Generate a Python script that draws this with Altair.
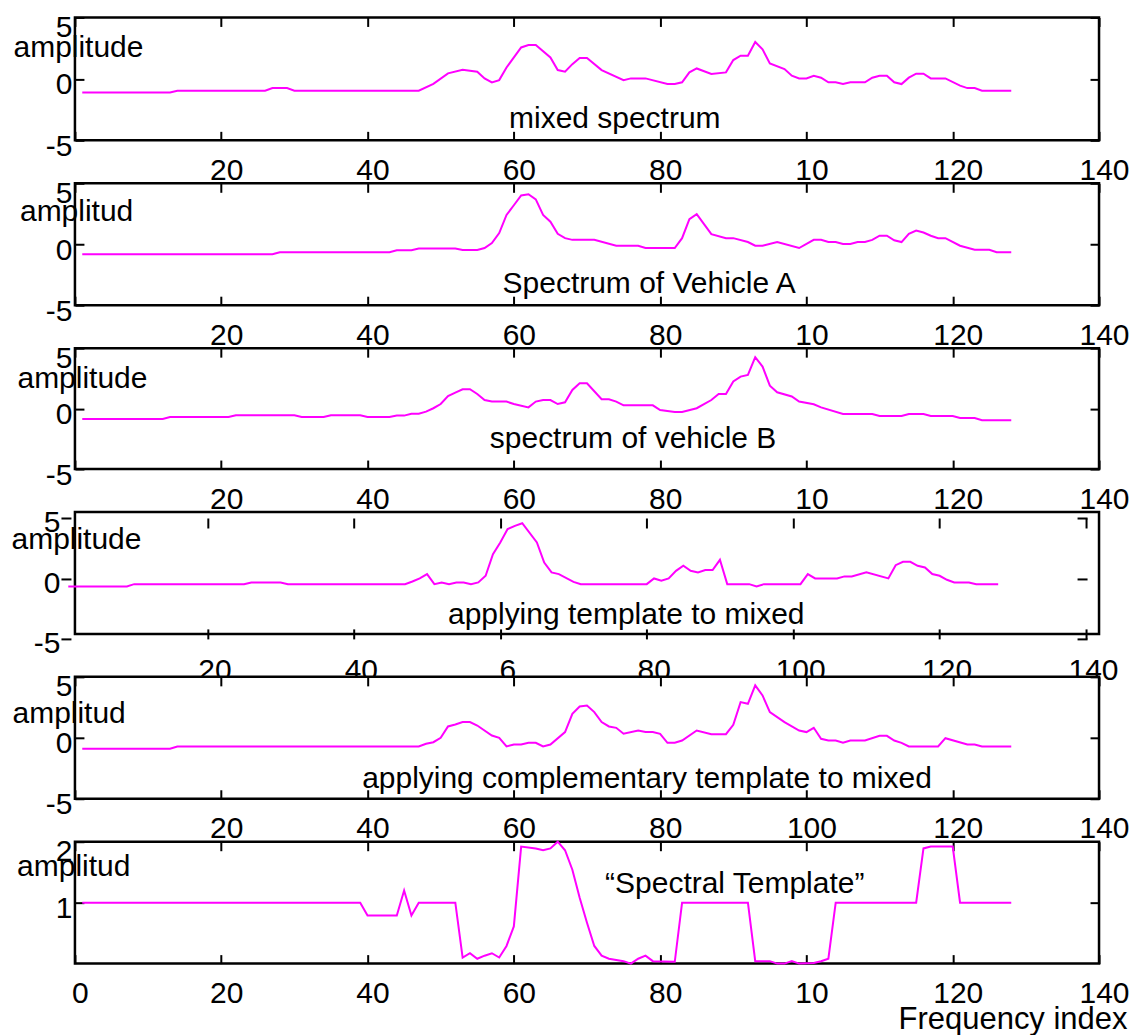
import altair as alt
import pandas as pd

FONT = "Liberation Sans"
MAGENTA = "#ff00ff"
TICK_FS = 30
TEXT_FS = 30

# ---------------- values ----------------
mixed_idx = [1, 13, 14, 26, 27, 29, 30, 47, 49, 51, 53, 55, 56, 57, 58, 59, 61, 62, 63, 65,
             66, 67, 68, 69, 70, 72, 75, 76, 78, 81, 82, 83, 84, 85, 87, 89, 90, 91, 92, 93,
             94, 95, 97, 98, 99, 100, 101, 102, 103, 104, 105, 106, 108, 109, 110, 111, 112, 113, 114, 115,
             116, 117, 119, 121, 122, 123, 124, 128]
mixed_amp = [-1.1, -1.1, -0.96, -0.96, -0.75, -0.75, -0.96, -0.96, -0.4, 0.45,
             0.75, 0.58, 0.04, -0.28, -0.1, 0.93, 2.56, 2.75, 2.75, 1.75,
             0.72, 0.58, 1.2, 1.7, 1.7, 0.72, -0.1, 0.04, 0.04, -0.42,
             -0.42, -0.28, 0.53, 0.85, 0.4, 0.53, 1.53, 1.89, 1.89, 3.0,
             2.4, 1.26, 0.8, 0.26, 0.04, 0.04, 0.26, 0.1, -0.28, -0.28,
             -0.42, -0.28, -0.28, 0.1, 0.26, 0.26, -0.28, -0.42, 0.1, 0.42,
             0.42, 0.04, 0.04, -0.55, -0.75, -0.75, -0.96, -0.96]

vehA_idx = [1, 27, 28, 43, 44, 46, 47, 52, 53, 55, 56, 57, 58, 59, 60, 61, 62, 63, 64, 65,
            66, 67, 68, 71, 74, 77, 78, 82, 83, 84, 85, 86, 87, 89, 90, 92, 93, 94, 96, 99,
            101, 102, 103, 104, 105, 106, 107, 108, 109, 110, 111, 112, 113, 114, 115, 116, 117, 118, 119, 121,
            123, 125, 126, 128]
vehA_amp = [-0.82, -0.82, -0.65, -0.65, -0.5, -0.5, -0.35, -0.35, -0.47, -0.47,
            -0.31, 0.1, 0.92, 2.4, 3.2, 4.0, 4.1, 3.68, 2.4, 1.85,
            0.85, 0.5, 0.36, 0.36, -0.12, -0.12, -0.31, -0.31, 0.5, 2.06,
            2.47, 1.65, 0.83, 0.5, 0.5, 0.18, -0.12, -0.12, 0.18, -0.31,
            0.36, 0.36, 0.18, 0.18, 0.02, 0.02, 0.18, 0.18, 0.36, 0.7,
            0.7, 0.32, 0.18, 0.85, 1.13, 0.96, 0.7, 0.5, 0.5, -0.12,
            -0.45, -0.45, -0.65, -0.65]

vehB_idx = [1, 12, 13, 21, 22, 30, 31, 34, 35, 39, 40, 43, 44, 45, 46, 47, 48, 49, 50, 51,
            52, 53, 54, 55, 56, 57, 59, 60, 62, 63, 64, 65, 66, 67, 68, 69, 70, 72, 73, 74,
            75, 79, 80, 82, 83, 85, 87, 88, 89, 90, 91, 92, 93, 94, 95, 96, 98, 99, 101, 102,
            105, 109, 110, 113, 114, 116, 117, 120, 121, 123, 124, 128]
vehB_amp = [-0.85, -0.85, -0.7, -0.7, -0.55, -0.55, -0.7, -0.7, -0.55, -0.55,
            -0.7, -0.7, -0.58, -0.58, -0.42, -0.42, -0.25, 0.03, 0.38, 1.04,
            1.32, 1.6, 1.6, 1.21, 0.71, 0.58, 0.58, 0.38, 0.1, 0.58,
            0.71, 0.71, 0.38, 0.52, 1.54, 2.1, 2.1, 0.77, 0.77, 0.58,
            0.27, 0.27, -0.12, -0.28, -0.28, 0.03, 0.71, 1.21, 1.21, 2.24,
            2.65, 2.78, 4.25, 3.48, 1.9, 1.35, 1.0, 0.58, 0.36, 0.1,
            -0.45, -0.45, -0.61, -0.61, -0.45, -0.45, -0.61, -0.61, -0.78, -0.78,
            -0.97, -0.97]

appl_idx = [1, 9, 10, 25, 26, 30, 31, 47, 48, 49, 50, 51, 52, 53, 54, 55, 56, 57, 58, 59,
            60, 61, 62, 63, 65, 66, 67, 68, 70, 71, 80, 81, 82, 83, 84, 85, 86, 87, 88, 89,
            90, 91, 94, 95, 96, 101, 102, 103, 106, 107, 108, 110, 113, 114, 115, 116, 117, 118, 119, 120,
            121, 122, 124, 125, 128]
appl_amp = [-0.66, -0.66, -0.47, -0.47, -0.33, -0.33, -0.47, -0.47, -0.25, 0.0,
            0.36, -0.47, -0.33, -0.47, -0.33, -0.33, -0.47, -0.33, 0.22, 2.0,
            2.98, 4.08, 4.35, 4.57, 2.98, 1.32, 0.5, 0.36, -0.28, -0.47,
            -0.47, 0.0, -0.19, 0.0, 0.63, 1.05, 0.63, 0.5, 0.69, 0.69,
            1.54, -0.47, -0.47, -0.66, -0.47, -0.47, 0.36, 0.0, 0.0, 0.17,
            0.17, 0.5, 0.0, 1.1, 1.38, 1.38, 1.05, 0.91, 0.36, 0.22,
            -0.11, -0.33, -0.33, -0.47, -0.47]

comp_idx = [1, 13, 14, 47, 48, 49, 50, 51, 52, 53, 54, 55, 57, 58, 59, 60, 61, 62, 63, 64,
            65, 67, 68, 69, 70, 71, 72, 73, 74, 75, 77, 78, 79, 80, 81, 82, 83, 85, 87, 89,
            90, 91, 92, 93, 94, 95, 97, 99, 100, 101, 102, 103, 104, 105, 106, 108, 110, 111, 112, 113,
            114, 118, 119, 122, 123, 124, 128]
comp_amp = [-0.9, -0.9, -0.71, -0.71, -0.49, -0.36, 0.0, 0.93, 1.09, 1.29,
            1.29, 1.01, 0.19, 0.0, -0.71, -0.55, -0.55, -0.41, -0.41, -0.71,
            -0.55, 0.47, 1.97, 2.57, 2.65, 2.11, 1.29, 0.93, 0.82, 0.33,
            0.6, 0.47, 0.47, 0.33, -0.41, -0.41, -0.22, 0.6, 0.3, 0.3,
            1.07, 2.93, 2.79, 4.3, 3.48, 2.11, 1.29, 0.6, 0.47, 0.82,
            -0.08, -0.22, -0.22, -0.41, -0.22, -0.22, 0.16, 0.16, -0.22, -0.41,
            -0.71, -0.71, -0.03, -0.55, -0.55, -0.71, -0.71]

tmpl_idx = [1, 39, 40, 44, 45, 46, 47, 52, 53, 54, 55, 56, 57, 58, 59, 60, 61, 63, 64, 65,
            66, 67, 68, 69, 70, 71, 72, 73, 75, 76, 77, 78, 79, 82, 83, 92, 93, 95, 96, 97,
            98, 99, 101, 102, 103, 104, 115, 116, 117, 120, 121, 128]
tmpl_amp = [1.0, 1.0, 0.79, 0.79, 1.2, 0.79, 1.0, 1.0, 0.1, 0.17,
            0.08, 0.13, 0.17, 0.1, 0.29, 0.61, 1.92, 1.89, 1.86, 1.89,
            2.0, 1.86, 1.54, 1.08, 0.67, 0.29, 0.13, 0.08, 0.04, 0.0,
            0.08, 0.13, 0.04, 0.03, 1.0, 1.0, 0.04, 0.04, 0.0, 0.0,
            0.04, 0.0, 0.01, 0.04, 0.08, 1.0, 1.0, 1.89, 1.92, 1.92,
            1.0, 1.0]

x_ticks = [0, 20, 40, 60, 80, 100, 120, 140]
x_labels_std = ["", "20", "40", "60", "80", "10", "120", "140"]
x_labels_comp = ["", "20", "40", "60", "80", "100", "120", "140"]
x_labels_tmpl = ["0", "20", "40", "60", "80", "10", "120", "140"]
x_ticks_appl = [20, 40, 60, 80, 100, 120, 140]
x_labels_appl = ["20", "40", "6", "80", "100", "120", "140"]
amp_ticks = [-5, 0, 5]
amp_labels = ["-5", "0", "5"]
tmpl_ticks = [1, 2]
tmpl_labels = ["1", "2"]

titles = ["mixed spectrum", "Spectrum of Vehicle A", "spectrum of vehicle B",
          "applying template to mixed", "applying complementary template to mixed",
          "\u201cSpectral Template\u201d"]
y_titles = ["amplitude", "amplitud", "amplitude", "amplitude", "amplitud", "amplitud"]
x_title = "Frequency index"

# ---------------- layout / style (not data) ----------------
W = 1025
HEIGHTS = [123, 122, 121, 122, 122, 122]
TITLE_AT = [(73.8, -3.3), (78.5, -3.3), (76.3, -2.55), (77.2, -3.06), (78.2, -3.36), (90.2, 1.3)]
YTITLE_AT = [(11, 30), (17.5, 28), (15, 30), (9, 28), (10, 37), (14.6, 25)]


def lexpr(values, labels):
    s = "''"
    for v, l in reversed(list(zip(values, labels))):
        s = f"datum.value == {v} ? '{l}' : ({s})"
    return s


COMMON = dict(domain=False, grid=False, tickColor="black", tickWidth=2,
              labelColor="black", labelFont=FONT, labelFontSize=TICK_FS,
              labelFlush=False, labelOverlap=False)


def panel(k, idx, amp, xvals, xlabs, yvals, ylabs, ydomain, rvals,
          special=False, xtitle=None):
    h = HEIGHTS[k]
    df = pd.DataFrame({"idx": idx, "amp": amp})
    if special:
        xs = alt.Scale(domain=[0, 140], range=[-14, 1012], nice=False, zero=False)
        ys = alt.Scale(domain=ydomain, range=[127, 6], nice=False, zero=False)
        tick = 10
        off = dict(bottom=-5, top=-16, left=4, right=-22)
        lpad_x, lpad_y = 17, 1
        loff_x = 7
        loff_y_top, loff_y = 5, 5
    else:
        xs = alt.Scale(domain=[0, 140], nice=False, zero=False)
        ys = alt.Scale(domain=ydomain, nice=False, zero=False)
        tick = 9
        off = dict(bottom=-9, top=-9, left=-9, right=-9)
        lpad_x, lpad_y = 15, 3
        loff_x = 5
        loff_y_top, loff_y = 10, 6
    left_origin = 73 - off["left"]
    tx, ty = YTITLE_AT[k]

    if xtitle:
        bkw = dict(title=xtitle, titleAngle=0, titleX=1053, titleY=74,
                   titleAlign="right", titleBaseline="alphabetic", titleFont=FONT,
                   titleFontSize=31, titleFontWeight="normal", titleColor="black")
    else:
        bkw = dict(title=None)

    bottom_axis = alt.Axis(orient="bottom", values=xvals, labelExpr=lexpr(xvals, xlabs),
                           tickSize=tick, offset=off["bottom"], labelPadding=lpad_x,
                           labelBaseline="top", labelOffset=loff_x, **COMMON, **bkw)
    left_axis = alt.Axis(orient="left", values=yvals, labelExpr=lexpr(yvals, ylabs),
                         tickSize=tick, offset=off["left"], labelPadding=lpad_y,
                         labelBaseline="middle", labelAlign="right",
                         labelOffset=alt.condition(f"datum.value == {max(yvals)}",
                                                   alt.value(loff_y_top),
                                                   alt.value(loff_y)),
                         title=y_titles[k], titleAngle=0, titleAlign="left",
                         titleBaseline="middle", titleX=tx - left_origin, titleY=ty,
                         titleFont=FONT, titleFontSize=TEXT_FS, titleFontWeight="normal",
                         titleColor="black", **COMMON)
    top_axis = alt.Axis(orient="top", values=xvals, labels=False, tickSize=tick,
                        offset=off["top"], title=None, domain=False, grid=False,
                        tickColor="black", tickWidth=2)
    right_axis = alt.Axis(orient="right", values=rvals, labels=False, tickSize=tick,
                          offset=off["right"], title=None, domain=False, grid=False,
                          tickColor="black", tickWidth=2)

    line = alt.Chart(df).mark_line(color=MAGENTA, strokeWidth=2, clip=False).encode(
        x=alt.X("idx:Q", scale=xs, axis=bottom_axis),
        y=alt.Y("amp:Q", scale=ys, axis=left_axis),
    )
    ghost = alt.Chart(df).mark_line(strokeOpacity=0).encode(
        x=alt.X("idx:Q", scale=xs, axis=top_axis),
        y=alt.Y("amp:Q", scale=ys, axis=right_axis),
    )
    px, py = TITLE_AT[k]
    tdf = pd.DataFrame({"idx": [px], "amp": [py], "t": [titles[k]]})
    text = alt.Chart(tdf).mark_text(font=FONT, fontSize=TEXT_FS, color="black",
                                    align="center", baseline="middle").encode(
        x=alt.X("idx:Q", scale=xs, axis=None),
        y=alt.Y("amp:Q", scale=ys, axis=None),
        text="t:N",
    )
    return alt.layer(line, ghost, text).resolve_axis(
        x="independent", y="independent").properties(width=W, height=h)


p1 = panel(0, mixed_idx, mixed_amp, x_ticks, x_labels_std, amp_ticks, amp_labels, [-5, 5], amp_ticks)
p2 = panel(1, vehA_idx, vehA_amp, x_ticks, x_labels_std, amp_ticks, amp_labels, [-5, 5], amp_ticks)
p3 = panel(2, vehB_idx, vehB_amp, x_ticks, x_labels_std, amp_ticks, amp_labels, [-5, 5], amp_ticks)
p4 = panel(3, appl_idx, appl_amp, x_ticks_appl, x_labels_appl, amp_ticks, amp_labels, [-5, 5],
           amp_ticks, special=True)
p5 = panel(4, comp_idx, comp_amp, x_ticks, x_labels_comp, amp_ticks, amp_labels, [-5, 5], amp_ticks)
p6 = panel(5, tmpl_idx, tmpl_amp, x_ticks, x_labels_tmpl, tmpl_ticks, tmpl_labels, [0, 2], [1],
           xtitle=x_title)

chart = alt.vconcat(p1, p2, p3, p4, p5, p6, spacing=43, bounds="flush").configure_view(
    stroke="black", strokeWidth=2.5, fill="white"
).properties(
    padding={"left": 1, "top": 2, "right": 5, "bottom": 0},
    background="white",
)

chart.save("out.html", embed_options={"renderer": "svg", "actions": False})
